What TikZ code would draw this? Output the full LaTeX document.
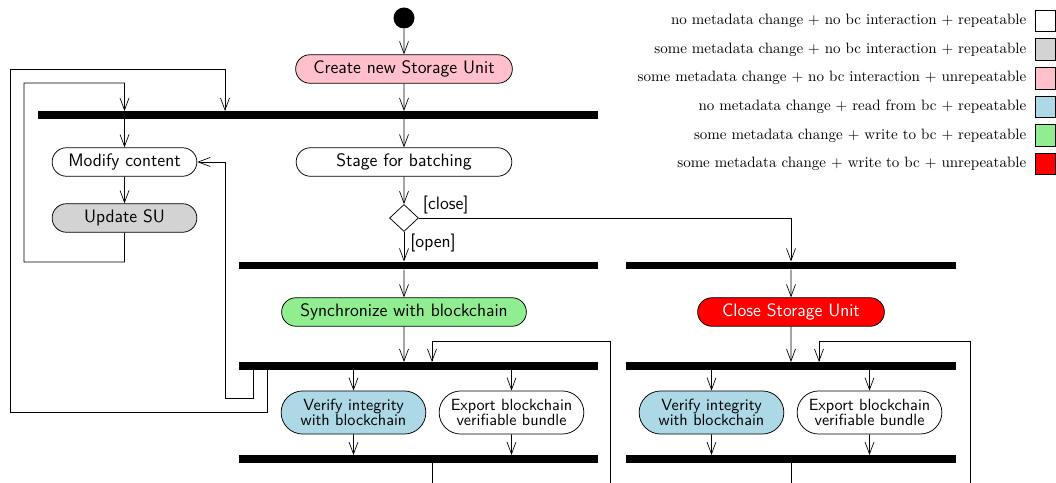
\documentclass[tikz,border=0pt]{standalone}
\usepackage{xcolor}
\usepackage{tikz}
\usetikzlibrary{arrows.meta,positioning,shapes.geometric,shapes.misc}
\definecolor{cpink}{HTML}{FFC0CB}
\definecolor{cgray}{HTML}{D3D3D3}
\definecolor{cblue}{HTML}{ADD8E6}
\definecolor{cgreen}{HTML}{90EE90}
\definecolor{cred}{HTML}{FF0000}
\tikzset{
  flow/.style={-{Straight Barb[length=8pt,width=6pt]},line width=0.45pt},
  link/.style={line width=0.45pt},
  act/.style={draw,rounded rectangle,line width=0.5pt,font=\sffamily\large,align=center,minimum height=19pt,inner xsep=4pt},
  act2/.style={act,font=\sffamily\fontsize{10.8pt}{10pt}\selectfont,minimum width=104.5pt,minimum height=28.7pt},
  bar/.style={fill=black,inner sep=0pt,minimum height=5pt},
  guard/.style={font=\sffamily\large,inner sep=2.5pt},
  key/.style={draw,line width=0.5pt,minimum width=13.5pt,minimum height=14.5pt,inner sep=0pt},
  keytxt/.style={font=\normalsize,left=2pt of #1}
}
\begin{document}
\begin{tikzpicture}[x=0.6667pt,y=-0.6667pt]
\clip (0,0) rectangle (1056,483);
\node[circle,fill=black,minimum size=14pt,inner sep=0pt] (start) at (404,18) {};
\node[act,fill=cpink,minimum width=152.5pt] (create) at (404,69) {Create new Storage Unit};
\node[bar,minimum width=373.3pt] (fork1) at (318,115) {};
\node[act,minimum width=104.5pt] (modify) at (124.5,162) {Modify content};
\node[act,minimum width=151.8pt] (stage) at (404,162) {Stage for batching};
\node[act,fill=cgray,minimum width=104.5pt] (update) at (124.5,218) {Update SU};
\node[diamond,draw,line width=0.5pt,minimum width=19.3pt,minimum height=18pt,inner sep=0pt] (dec) at (404,218) {};
\node[bar,minimum width=239.3pt] (fork2) at (418.5,265.5) {};
\node[bar,minimum width=220pt] (forkr1) at (791,265.5) {};
\node[act,fill=cgreen,minimum width=171.2pt] (sync) at (404,312) {Synchronize with blockchain};
\node[act,fill=cred,text=white,minimum width=132.5pt] (close) at (791,312) {Close Storage Unit};
\node[bar,minimum width=239.3pt] (fork3) at (418.5,366) {};
\node[bar,minimum width=220pt] (forkr3) at (791,366) {};
\node[act2,fill=cblue] (verify) at (353.5,412.5) {Verify integrity\\with blockchain};
\node[act2] (export) at (511.5,412.5) {Export blockchain\\verifiable bundle};
\node[act2,fill=cblue] (verifyr) at (711.5,412.5) {Verify integrity\\with blockchain};
\node[act2] (exportr) at (869.5,412.5) {Export blockchain\\verifiable bundle};
\node[bar,minimum width=239.3pt] (join4) at (418.5,459) {};
\node[bar,minimum width=220pt] (joinr4) at (791,459) {};
\coordinate (da) at (24,262);
\coordinate (db) at (124.5,83);
\coordinate (ba) at (253,398);
\coordinate (bb) at (225,398);
\coordinate (ca) at (267,412);
\coordinate (cb) at (10,412);
\coordinate (cc) at (225,69);
\coordinate (backl) at (432,341);
\coordinate (backr) at (819,341);
\coordinate (outl) at (432,500);
\coordinate (inl) at (610,500);
\coordinate (outr) at (791,500);
\coordinate (inr) at (970,500);
\draw[flow] (start) -- (create);
\draw[flow] (create) -- (create |- fork1.north);
\draw[flow] (modify |- fork1.south) -- (modify);
\draw[flow] (stage |- fork1.south) -- (stage);
\draw[flow] (modify) -- (update);
\draw[flow] (update) -- (update |- da) -- (da) |- (db) -- (db |- fork1.north);
\draw[flow] (stage) -- (dec);
\draw[flow] (dec.south) -- node[guard,pos=0,anchor=north west,inner sep=1pt,xshift=3pt] (openlbl) {[open]} (dec |- fork2.north);
\draw[flow] (dec.east) -- node[guard,pos=0,above right] (closelbl) {[close]} (close |- dec.east) -- (close |- forkr1.north);
\draw[flow] (sync |- fork2.south) -- (sync);
\draw[flow] (close |- forkr1.south) -- (close);
\draw[flow] (sync) -- (sync |- fork3.north);
\draw[flow] (close) -- (close |- forkr3.north);
\draw[flow] (verify |- fork3.south) -- (verify);
\draw[flow] (export |- fork3.south) -- (export);
\draw[flow] (verify) -- (verify |- join4.north);
\draw[flow] (export) -- (export |- join4.north);
\draw[flow] (verifyr |- forkr3.south) -- (verifyr);
\draw[flow] (exportr |- forkr3.south) -- (exportr);
\draw[flow] (verifyr) -- (verifyr |- joinr4.north);
\draw[flow] (exportr) -- (exportr |- joinr4.north);
\draw[flow] (fork3.south -| ba) -- (ba) -- (bb) |- (modify.east);
\draw[flow] (fork3.south -| ca) -- (ca) -- (cb) |- (cc) -- (cc |- fork1.north);
\draw[link] (join4.south -| outl) -- (outl);
\draw[flow] (inl) |- (backl) -- (backl |- fork3.north);
\draw[link] (joinr4.south -| outr) -- (outr);
\draw[flow] (inr) |- (backr) -- (backr |- forkr3.north);
\node[key] (k1) at (1045,21) {};
\node[key,fill=cgray] (k2) at (1045,49.6) {};
\node[key,fill=cpink] (k3) at (1045,78.2) {};
\node[key,fill=cblue] (k4) at (1045,106.8) {};
\node[key,fill=cgreen] (k5) at (1045,135.4) {};
\node[key,fill=cred] (k6) at (1045,164) {};
\node[keytxt=k1] (t1) {no metadata change + no bc interaction + repeatable};
\node[keytxt=k2] (t2) {some metadata change + no bc interaction + repeatable};
\node[keytxt=k3] (t3) {some metadata change + no bc interaction + unrepeatable};
\node[keytxt=k4] (t4) {no metadata change + read from bc + repeatable};
\node[keytxt=k5] (t5) {some metadata change + write to bc + repeatable};
\node[keytxt=k6] (t6) {some metadata change + write to bc + unrepeatable};
\end{tikzpicture}
\end{document}
